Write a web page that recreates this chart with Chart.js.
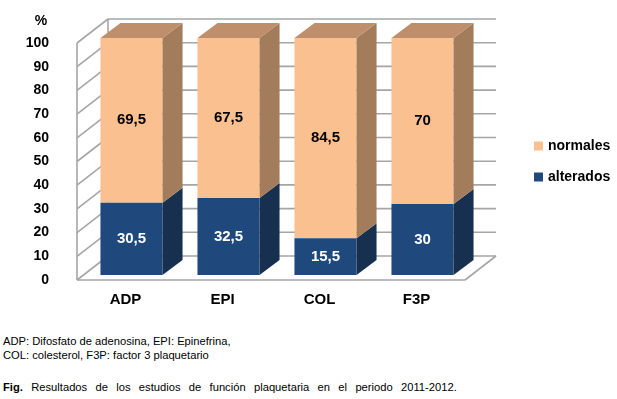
<!DOCTYPE html>
<html>
<head>
<meta charset="utf-8">
<script src="https://cdn.jsdelivr.net/npm/chart.js@4"></script>
<style>
  body { margin:0; background:#fff; width:617px; height:399px; position:relative; overflow:hidden; font-family:"Liberation Sans", Arial, sans-serif; }
  #wrap { position:absolute; left:0; top:0; width:617px; height:320px; }
  .note { position:absolute; left:3px; font-size:11.2px; color:#000; line-height:14px; white-space:nowrap; }
</style>
</head>
<body>
<div id="wrap"><canvas id="chart" width="617" height="320"></canvas></div>
<div class="note" style="top:334px">ADP: Difosfato de adenosina, EPI: Epinefrina,<br>COL: colesterol, F3P: factor 3 plaquetario</div>
<div class="note" style="top:380px; word-spacing:5.2px"><b>Fig.</b> Resultados de los estudios de función plaquetaria en el periodo 2011-2012.</div>
<script>
// data
const categories = ['ADP', 'EPI', 'COL', 'F3P'];
const alterados = [30.5, 32.5, 15.5, 30];
const normales = [69.5, 67.5, 84.5, 70];
const yMin = 0, yMax = 100, yStep = 10;

// fake 3d: offsets of the walls and bar depth (px, relative to bar front faces)
const FRONT = { x: -6, y: 5 };
const BACK = { x: 25, y: -19 };
const DEPTH = { x: 20, y: -15 };
const sideColors = ['#17304f', '#a27c5b'];
const topColors = ['#1a3a63', '#bf8e6a'];
const labelColors = ['#ffffff', '#000000'];
const FONT = '"Liberation Sans", Arial, sans-serif';

function line(ctx, x1, y1, x2, y2){
  ctx.beginPath(); ctx.moveTo(x1, y1); ctx.lineTo(x2, y2); ctx.stroke();
}
function poly(ctx, pts, fill){
  ctx.beginPath();
  pts.forEach((p, i) => i ? ctx.lineTo(p[0], p[1]) : ctx.moveTo(p[0], p[1]));
  ctx.closePath(); ctx.fillStyle = fill; ctx.fill();
}

const box3d = {
  id: 'box3d',
  beforeDatasetsDraw(chart){
    const { ctx, chartArea: a, scales: { y } } = chart;
    const y0 = y.getPixelForValue(yMin), y100 = y.getPixelForValue(yMax);
    ctx.save();
    ctx.strokeStyle = '#a6a6a6';
    ctx.lineWidth = 1.6;
    y.ticks.forEach(t => {
      const py = y.getPixelForValue(t.value);
      line(ctx, a.left + FRONT.x, py + FRONT.y, a.left + BACK.x, py + BACK.y);
      line(ctx, a.left + BACK.x, py + BACK.y, a.right + BACK.x, py + BACK.y);
    });
    // left wall edges
    line(ctx, a.left + FRONT.x, y100 + FRONT.y, a.left + FRONT.x, y0 + FRONT.y);
    line(ctx, a.left + BACK.x, y100 + BACK.y, a.left + BACK.x, y0 + BACK.y);
    // floor
    line(ctx, a.left + FRONT.x, y0 + FRONT.y, a.right + FRONT.x, y0 + FRONT.y);
    line(ctx, a.right + FRONT.x, y0 + FRONT.y, a.right + BACK.x, y0 + BACK.y);
    // % sign over the axis
    ctx.fillStyle = '#000';
    ctx.font = 'bold 14px ' + FONT;
    ctx.textAlign = 'center';
    ctx.textBaseline = 'middle';
    ctx.fillText('%', 41, 21);
    ctx.restore();
  },
  afterDatasetsDraw(chart){
    const ctx = chart.ctx;
    const sets = chart.data.datasets;
    const last = sets.length - 1;
    ctx.save();
    sets.forEach((ds, i) => {
      const meta = chart.getDatasetMeta(i);
      meta.data.forEach((el, j) => {
        const p = el.getProps(['x', 'y', 'base', 'width'], true);
        const l = p.x - p.width / 2, r = p.x + p.width / 2;
        poly(ctx, [[r, p.y], [r + DEPTH.x, p.y + DEPTH.y], [r + DEPTH.x, p.base + DEPTH.y], [r, p.base]], sideColors[i]);
        if (i === last) {
          poly(ctx, [[l, p.y], [r, p.y], [r + DEPTH.x, p.y + DEPTH.y], [l + DEPTH.x, p.y + DEPTH.y]], topColors[i]);
        }
        // value label
        ctx.fillStyle = labelColors[i];
        ctx.font = 'bold 15px ' + FONT;
        ctx.textAlign = 'center';
        ctx.textBaseline = 'middle';
        ctx.fillText(String(ds.data[j]).replace('.', ','), p.x, (p.y + p.base) / 2);
      });
    });
    // legend, top series first
    ctx.font = 'bold 14px ' + FONT;
    ctx.textAlign = 'left';
    ctx.textBaseline = 'middle';
    sets.slice().reverse().forEach((ds, k) => {
      const ly = 146 + k * 31;
      ctx.fillStyle = ds.backgroundColor;
      ctx.fillRect(534, ly - 4.5, 9, 9);
      ctx.fillStyle = '#000';
      ctx.fillText(ds.label, 548, ly);
    });
    ctx.restore();
  }
};

new Chart(document.getElementById('chart'), {
  type: 'bar',
  data: {
    labels: categories,
    datasets: [
      { label: 'alterados', data: alterados, backgroundColor: '#1f497d', borderWidth: 0 },
      { label: 'normales', data: normales, backgroundColor: '#fac090', borderWidth: 0 }
    ]
  },
  options: {
    responsive: false,
    devicePixelRatio: 1,
    animation: false,
    layout: { padding: { left: 23, top: 38, right: 146, bottom: 0 } },
    datasets: { bar: { barPercentage: 0.64, categoryPercentage: 1 } },
    scales: {
      x: {
        stacked: true,
        grid: { display: false, drawTicks: false },
        border: { display: false },
        ticks: { color: '#000', font: { family: FONT, size: 15, weight: 'bold' }, padding: 16, labelOffset: -6 },
        afterFit: s => { s.height = 45; }
      },
      y: {
        stacked: true,
        min: yMin, max: yMax,
        grid: { display: false, drawTicks: false },
        border: { display: false },
        ticks: { stepSize: yStep, color: '#000', font: { family: FONT, size: 14, weight: 'bold' }, padding: 34, labelOffset: 5 },
        // the big label padding would otherwise push the plot top down
        afterFit: s => { s.width = 60; s.paddingTop = 0; s.paddingBottom = 0; }
      }
    },
    plugins: {
      legend: { display: false },
      tooltip: { enabled: false }
    }
  },
  plugins: [box3d]
});
</script>
</body>
</html>
